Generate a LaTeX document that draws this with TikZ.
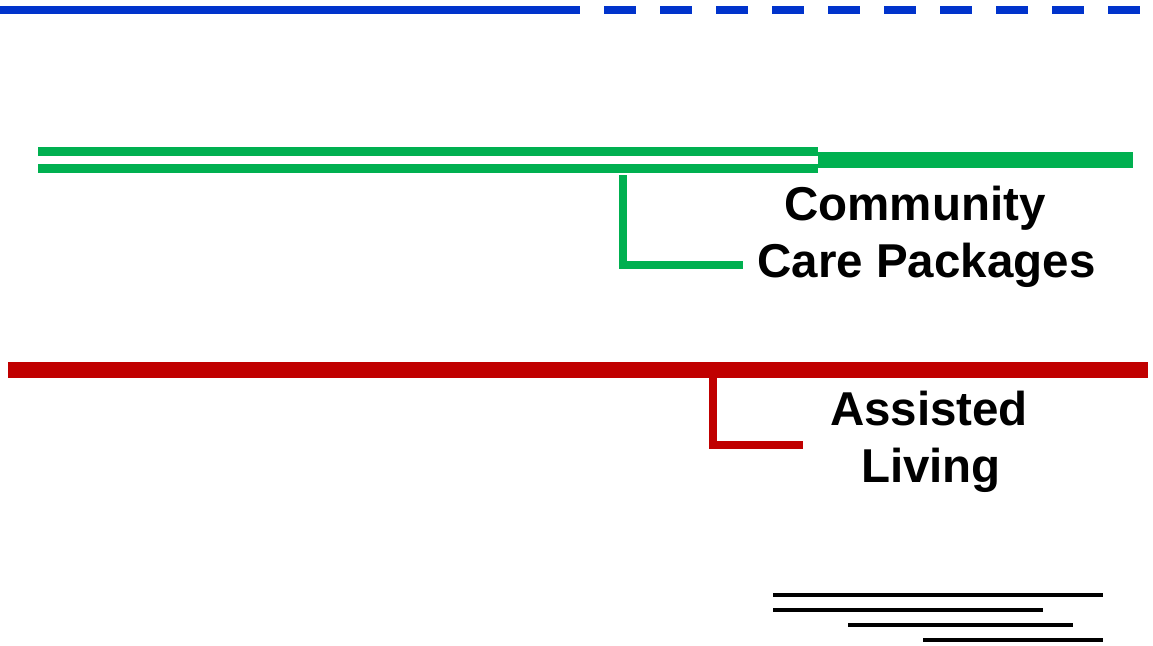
\documentclass[tikz,border=0pt]{standalone}
\usepackage{fontspec}
\setmainfont{Liberation Sans}
\definecolor{tlblue}{RGB}{0,51,204}
\definecolor{tlgreen}{RGB}{0,176,80}
\definecolor{tlred}{RGB}{192,0,0}
\begin{document}
\begin{tikzpicture}[x=1pt,y=-1pt,line cap=butt,
  lbl/.style={anchor=base,inner sep=0pt,font=\bfseries\fontsize{47.5}{57}\selectfont},
  bluebar/.style={tlblue,line width=8pt},
  greenbar/.style={tlgreen,line width=9pt},
  greenthick/.style={tlgreen,line width=16pt},
  greenlink/.style={tlgreen,line width=8pt},
  redbar/.style={tlred,line width=16pt},
  redlink/.style={tlred,line width=8pt},
  rule/.style={black,line width=4.5pt}]
\useasboundingbox (0,0) rectangle (1153,645);

% top timeline: solid, then dashed
\coordinate (b0) at (0,10);
\coordinate (b1) at (548,10);
\coordinate (b2) at (1140,10);
\draw[bluebar] (b0) -- (b1);
\draw[bluebar,dash pattern=on 32pt off 24pt] (b1) -- (b2);

% community care: double line then thick line
\coordinate (g0u) at (38,151);
\coordinate (g1u) at (818,151);
\coordinate (g0l) at (38,168.5);
\coordinate (g1l) at (818,168.5);
\coordinate (g1) at (818,160);
\coordinate (g2) at (1133,160);
\draw[greenbar] (g0u) -- (g1u);
\draw[greenbar] (g0l) -- (g1l);
\draw[greenthick] (g1) -- (g2);

% community care label and its bracket
\node[lbl] (cc1) at (915,220.5) {Community};
\node[lbl] (cc2) at (926.5,277.5) {Care Packages};
\coordinate (gl0) at (623,175);
\coordinate (gl1) at (623,265);
\coordinate (gl2) at (743,265);
\draw[greenlink] (gl0) -- (gl1) -- (gl2);

% assisted living line
\coordinate (r0) at (8,370);
\coordinate (r1) at (1148,370);
\draw[redbar] (r0) -- (r1);
\node[lbl] (al1) at (929,425) {Assisted};
\node[lbl] (al2) at (931,482) {Living};
\coordinate (rl0) at (713,378);
\coordinate (rl1) at (713,445);
\coordinate (rl2) at (803,445);
\draw[redlink] (rl0) -- (rl1) -- (rl2);

% short black rules at bottom right
\coordinate (k1a) at (773,595); \coordinate (k1b) at (1103,595);
\coordinate (k2a) at (773,610); \coordinate (k2b) at (1043,610);
\coordinate (k3a) at (848,625); \coordinate (k3b) at (1073,625);
\coordinate (k4a) at (923,640); \coordinate (k4b) at (1103,640);
\draw[rule] (k1a) -- (k1b);
\draw[rule] (k2a) -- (k2b);
\draw[rule] (k3a) -- (k3b);
\draw[rule] (k4a) -- (k4b);
\end{tikzpicture}
\end{document}
